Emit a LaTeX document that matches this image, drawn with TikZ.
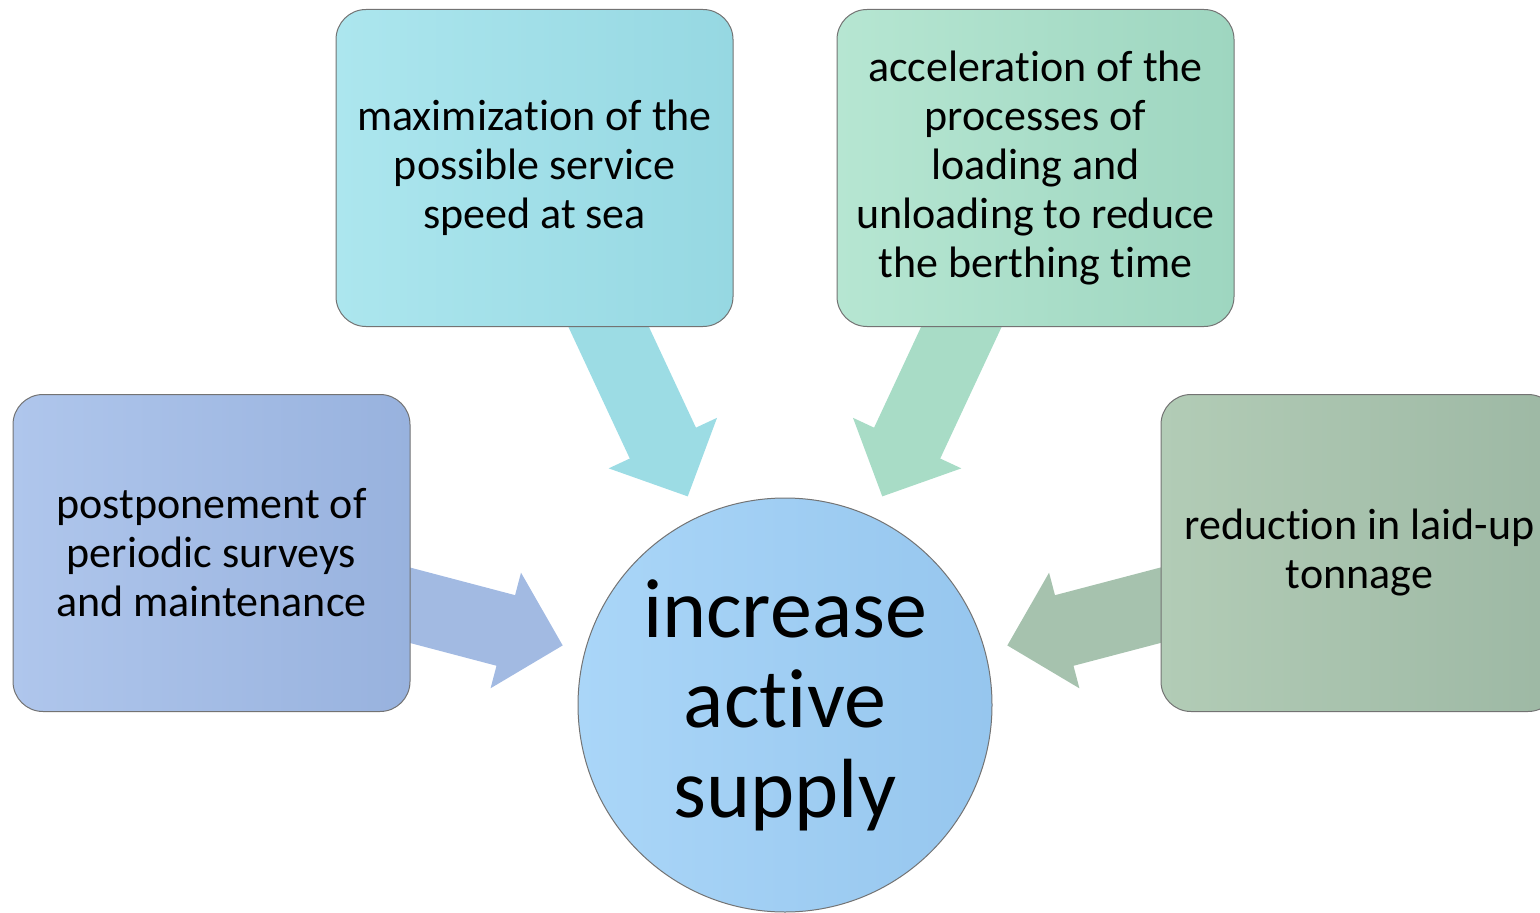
\documentclass[tikz,border=0pt]{standalone}
\usepackage{fontspec}
\setmainfont{Carlito}[RawFeature={-liga;-clig;-calt;-dlig;-rlig}]
\usetikzlibrary{positioning,backgrounds,arrows.meta,calc}

\definecolor{surveyA}{HTML}{AFC6EC}
\definecolor{surveyB}{HTML}{98B2DE}
\definecolor{speedA}{HTML}{ACE6EE}
\definecolor{speedB}{HTML}{96D8E2}
\definecolor{berthA}{HTML}{B6E6D2}
\definecolor{berthB}{HTML}{9ED6C0}
\definecolor{laidA}{HTML}{B2CCB6}
\definecolor{laidB}{HTML}{9DB8A4}
\definecolor{supplyA}{HTML}{AAD6F8}
\definecolor{supplyB}{HTML}{96C6EE}

\begin{document}
\begin{tikzpicture}[%
    x=0.5pt, y=0.5pt,
    factorbox/.style={
        draw=black!55,
        line width=0.5pt,
        rounded corners=15pt,
        minimum width=198.5pt,
        minimum height=158.5pt,
        align=center,
        inner sep=0pt,
        font=\fontsize{22}{24.5}\selectfont
        },
    goalnode/.style={
        circle,
        draw=black!55,
        line width=0.5pt,
        minimum size=207pt,
        align=center,
        inner sep=0pt,
        left color=supplyA, right color=supplyB,
        font=\fontsize{42}{45}\selectfont
        },
    blockarrow/.style={%
        line width=36.5pt,
        -{Triangle[width=58pt,length=29.5pt]}}
]

\useasboundingbox (0,0) rectangle (1540,912);
\clip (0,0) rectangle (1540,912);

\node[goalnode] (supply) at (785,207) {increase\\active\\supply};

\node[factorbox, left color=surveyA, right color=surveyB] (survey) at (211.5,359)
    {postponement of\\periodic surveys\\and maintenance};
\node[factorbox, left color=speedA, right color=speedB] (speed) at (534.5,744)
    {maximization of the\\possible service\\speed at sea};
\node[factorbox, left color=berthA, right color=berthB] (berth) at (1035.5,744)
    {acceleration of the\\processes of\\loading and\\unloading to reduce\\the berthing time};
\node[factorbox, left color=laidA, right color=laidB] (laidup) at (1359.5,359)
    {reduction in laid-up\\tonnage};

% arrow tips, short of the circle
\coordinate (t1) at ($(supply.center)+(165:230)$);
\coordinate (t2) at ($(supply.center)+(115:230)$);
\coordinate (t3) at ($(supply.center)+(65:230)$);
\coordinate (t4) at ($(supply.center)+(15:230)$);

\begin{scope}[on background layer]
\draw[blockarrow, color={rgb,255:red,162;green,186;blue,226}] (survey.center) -- (t1);
\draw[blockarrow, color={rgb,255:red,156;green,220;blue,228}] (speed.center) -- (t2);
\draw[blockarrow, color={rgb,255:red,168;green,220;blue,198}] (berth.center) -- (t3);
\draw[blockarrow, color={rgb,255:red,166;green,194;blue,174}] (laidup.center) -- (t4);
\end{scope}

\end{tikzpicture}
\end{document}
